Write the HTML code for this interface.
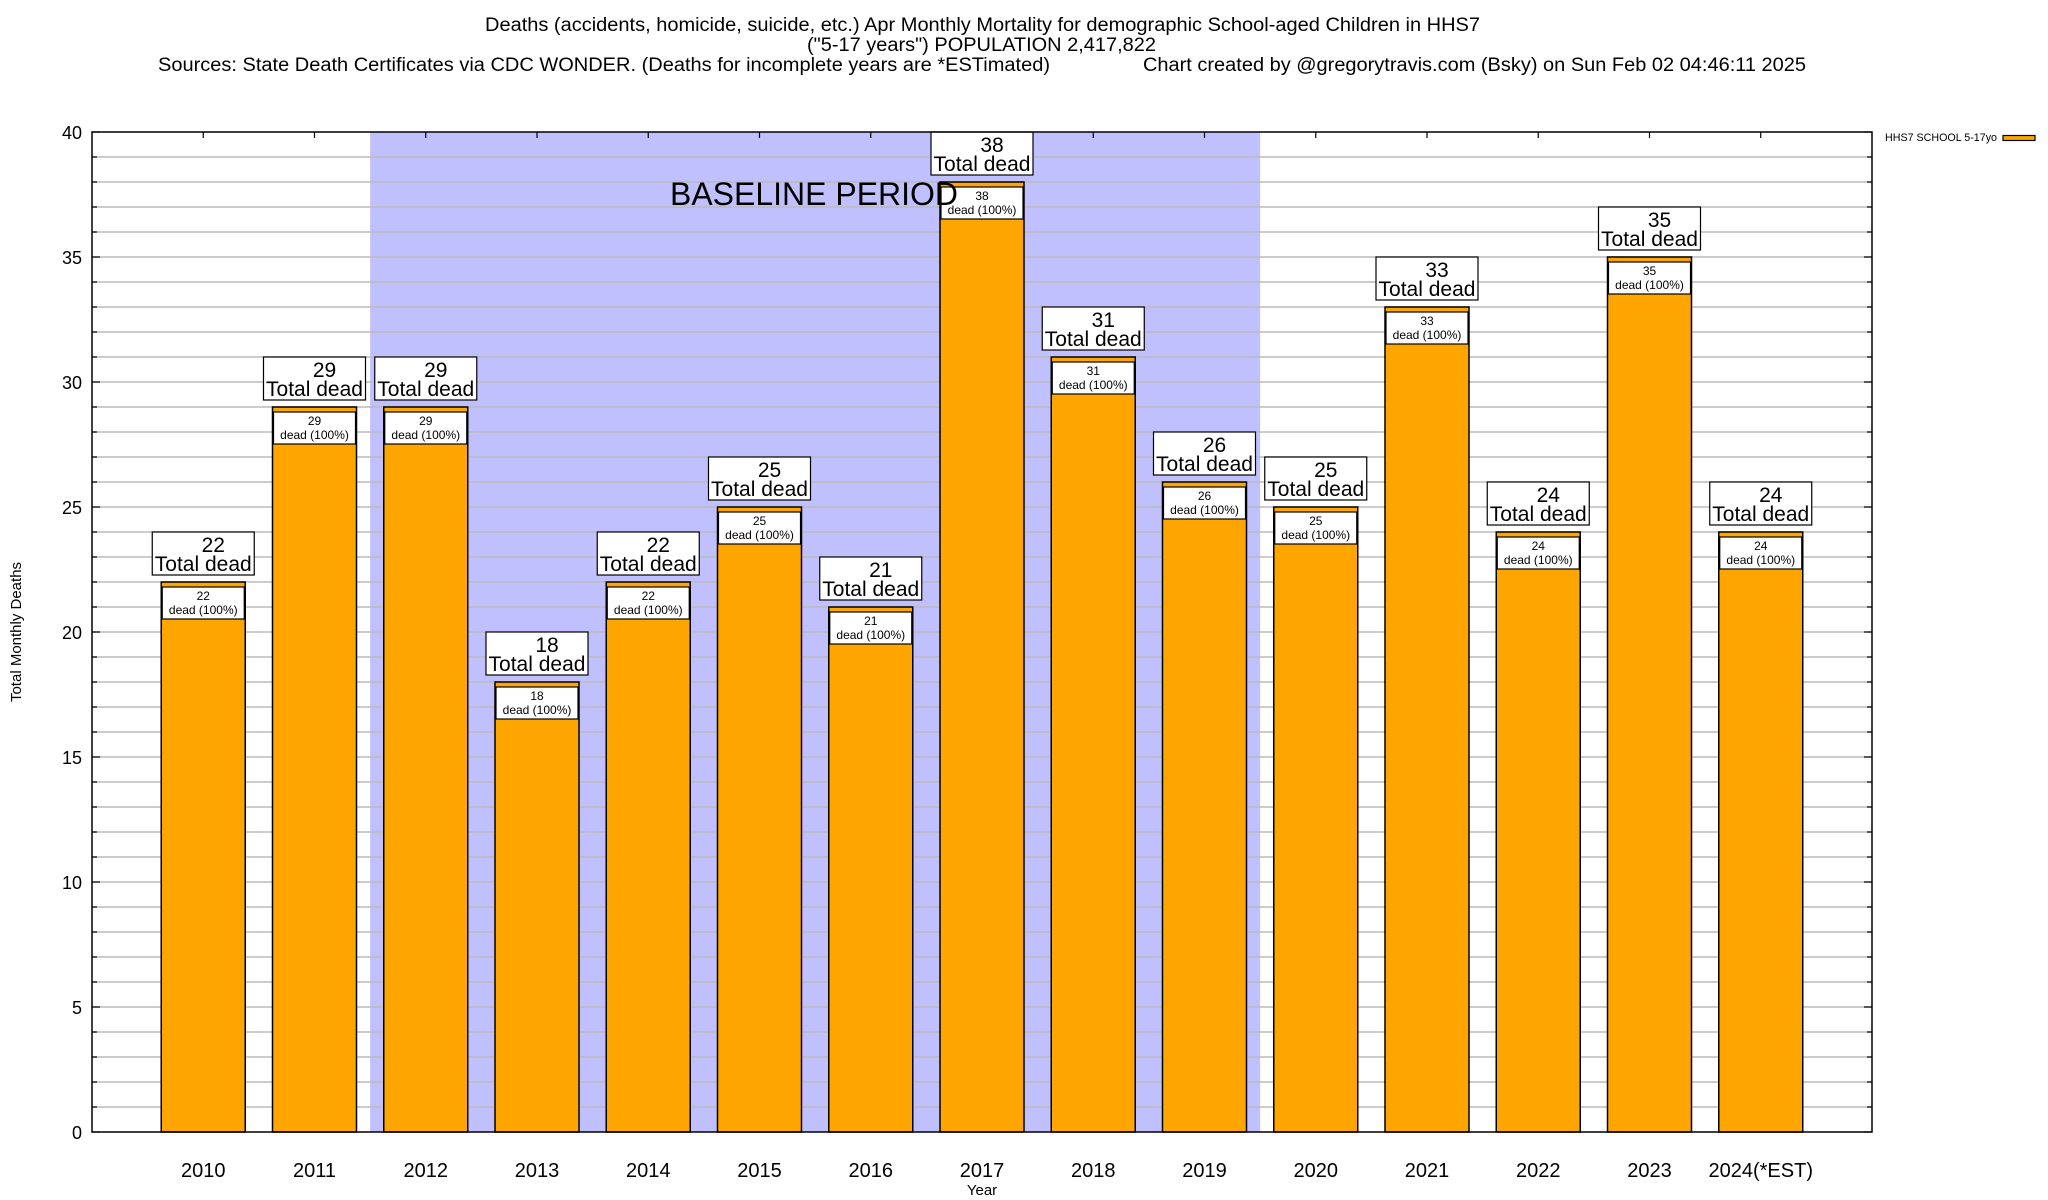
<!DOCTYPE html>
<html><head><meta charset="utf-8"><style>
html,body{margin:0;padding:0;background:#fff}
svg{display:block;font-family:"Liberation Sans",sans-serif}
</style></head><body>
<svg id="chart" width="2048" height="1200" viewBox="0 0 2048 1200">
<g>
<text x="485" y="31" font-size="19" textLength="995" lengthAdjust="spacingAndGlyphs">Deaths (accidents, homicide, suicide, etc.) Apr Monthly Mortality for demographic School-aged Children in HHS7</text>
<text x="807" y="51" font-size="19" textLength="349" lengthAdjust="spacingAndGlyphs">("5-17 years") POPULATION 2,417,822</text>
<text x="158" y="71" font-size="19" textLength="892" lengthAdjust="spacingAndGlyphs">Sources: State Death Certificates via CDC WONDER. (Deaths for incomplete years are *ESTimated)</text>
<text x="1143" y="71" font-size="19" textLength="663" lengthAdjust="spacingAndGlyphs">Chart created by @gregorytravis.com (Bsky) on Sun Feb 02 04:46:11 2025</text>
</g>
<g id="plot"></g>
<text x="0" y="0" transform="translate(21,632) rotate(-90)" text-anchor="middle" font-size="15">Total Monthly Deaths</text>
<text x="982" y="1195" text-anchor="middle" font-size="15">Year</text>
<g>
<text x="1885" y="141" font-size="11" textLength="112" lengthAdjust="spacingAndGlyphs">HHS7 SCHOOL 5-17yo</text>
<rect x="2003" y="135.5" width="32" height="5" fill="#ffa500" stroke="#000" stroke-width="1.2"></rect>
</g>
</svg>
<script>
const categories = ["2010","2011","2012","2013","2014","2015","2016","2017","2018","2019","2020","2021","2022","2023","2024(*EST)"];
const deaths = [22,29,29,18,22,25,21,38,31,26,25,33,24,35,24];
const yTicks = [0,5,10,15,20,25,30,35,40];
const baselineStart = 2, baselineEnd = 9;

const L=92,R=1872,T=132,B=1132,yMax=40;
const slot=(R-L)/(categories.length+1);
const xC=i=>L+(i+1)*slot;
const yS=v=>B-(v/yMax)*(B-T);
const NS="http://www.w3.org/2000/svg";
const plot=document.getElementById('plot');
function mk(tag,attrs,parent){const e=document.createElementNS(NS,tag);for(const k in attrs)e.setAttribute(k,attrs[k]);(parent||plot).appendChild(e);return e;}

const bx0=xC(baselineStart)-slot/2, bx1=xC(baselineEnd)+slot/2;
const shade=mk('rect',{x:bx0,y:T,width:bx1-bx0,height:B-T,fill:'#c0c0ff'});



for(let v=0;v<=yMax;v++){
  const y=yS(v);
  if(v>0&&v<yMax){const g=mk('line',{x1:L,x2:R,y1:y,y2:y,stroke:'#bbb','stroke-width':1.5});
  
  }
  const len=v%5===0?8:5;
  mk('line',{x1:L,x2:L+len,y1:y,y2:y,stroke:'#000','stroke-width':1.2});
  mk('line',{x1:R,x2:R-len,y1:y,y2:y,stroke:'#000','stroke-width':1.2});
}
yTicks.forEach(v=>{
  const t=mk('text',{x:82,y:yS(v)+7,'text-anchor':'end','font-size':18});
  t.textContent=v;
  
  
});

const bw=84;
categories.forEach((c,i)=>{
  const cx=xC(i), v=deaths[i], top=yS(v);
  mk('line',{x1:cx,x2:cx,y1:T,y2:T+6,stroke:'#000','stroke-width':1.2});
  mk('line',{x1:cx,x2:cx,y1:B,y2:B-6,stroke:'#000','stroke-width':1.2});
  const bar=mk('rect',{x:cx-bw/2,y:top,width:bw,height:B-top,fill:'#ffa500',stroke:'#000','stroke-width':1.5});
  
  
  const ib=mk('rect',{x:cx-41,y:top+5,width:82,height:32,fill:'#fff',stroke:'#000','stroke-width':1.2});
  
  
  const t1=mk('text',{x:cx,y:top+18,'text-anchor':'middle','font-size':12});
  t1.textContent=v;
  
  
  const t2=mk('text',{x:cx,y:top+32,'text-anchor':'middle','font-size':12});
  t2.textContent='dead (100%)';
  
  
  const ob=mk('rect',{x:cx-51,y:top-50,width:102,height:43,fill:'#fff',stroke:'#000','stroke-width':1.2});
  
  
  const o1=mk('text',{x:cx+10,y:top-30,'text-anchor':'middle','font-size':21});
  o1.textContent=v;
  
  
  const o2=mk('text',{x:cx,y:top-11,'text-anchor':'middle','font-size':21});
  o2.textContent='Total dead';
  
  
  const xl=mk('text',{x:cx,y:1177,'text-anchor':'middle','font-size':20});
  xl.textContent=c;
  
  
});
const bl=mk('text',{x:670,y:205,'font-size':32,textLength:288,lengthAdjust:'spacingAndGlyphs'});
bl.textContent='BASELINE PERIOD';


const frame=mk('rect',{x:L,y:T,width:R-L,height:B-T,fill:'none',stroke:'#000','stroke-width':1.5});


</script>
</body></html>
